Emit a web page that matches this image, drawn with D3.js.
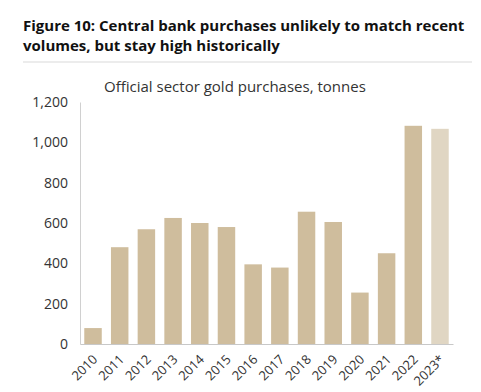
<!DOCTYPE html>
<html>
<head>
<meta charset="utf-8">
<script src="https://cdn.jsdelivr.net/npm/d3@7"></script>
<style>
  body { margin: 0; background: #fff; }
  svg { font-family: "Open Sans", sans-serif; display: block; }
</style>
</head>
<body>
<div class="chart"></div>
<script>
// data
const years = ["2010", "2011", "2012", "2013", "2014", "2015", "2016", "2017", "2018", "2019", "2020", "2021", "2022", "2023*"];
const purchases = [79, 480, 569, 625, 600, 580, 395, 379, 656, 605, 255, 450, 1082, 1067];
const yTicks = [0, 200, 400, 600, 800, 1000, 1200];
const titleLines = ["Figure 10: Central bank purchases unlikely to match recent", "volumes, but stay high historically"];
const subtitle = "Official sector gold purchases, tonnes";

const data = years.map((y, i) => ({year: y, value: purchases[i]}));

const width = 481;
const height = 392;
const margin = {top: 102, right: 28, bottom: 48, left: 80};
const innerWidth = width - margin.left - margin.right;
const innerHeight = height - margin.top - margin.bottom;

const svg = d3.select(".chart")
  .append("svg")
    .attr("width", width)
    .attr("height", height);

// title
svg.append("g")
  .selectAll("text")
  .data(titleLines)
  .enter()
  .append("text")
    .attr("x", 23)
    .attr("y", (d, i) => 31 + i * 20)
    .attr("font-size", 15)
    .attr("font-weight", "bold")
    .attr("fill", "#111")
    .text(d => d);

svg.append("line")
  .attr("x1", 23).attr("x2", 472)
  .attr("y1", 62).attr("y2", 62)
  .attr("stroke", "#d9d9d9");

svg.append("text")
  .attr("x", 104)
  .attr("y", 92)
  .attr("font-size", 15)
  .attr("fill", "#333")
  .text(subtitle);

const g = svg.append("g")
  .attr("transform", `translate(${margin.left}, ${margin.top})`);

const x = d3.scaleBand()
  .domain(years)
  .range([0, innerWidth])
  .paddingInner(0.345)
  .paddingOuter(0.16);

const y = d3.scaleLinear()
  .domain([0, 1200])
  .range([innerHeight, 0]);

// y axis
const yAxis = g.append("g")
  .call(d3.axisLeft(y).tickValues(yTicks).tickSize(0).tickPadding(12).tickFormat(d3.format(",")));
yAxis.select(".domain").attr("stroke", "#d0d0d0");
yAxis.selectAll("text")
  .attr("font-size", 14)
  .attr("font-family", "Open Sans, sans-serif")
  .attr("fill", "#333");

// bars
g.selectAll("rect")
  .data(data)
  .enter()
  .append("rect")
    .attr("x", d => x(d.year))
    .attr("y", d => y(d.value))
    .attr("width", x.bandwidth())
    .attr("height", d => innerHeight - y(d.value))
    .attr("fill", d => d.year === "2023*" ? "#e0d6c3" : "#cfbd9d");

// x axis
const xAxis = g.append("g")
  .attr("transform", `translate(0, ${innerHeight})`)
  .call(d3.axisBottom(x).tickSize(0).tickSizeOuter(0));
xAxis.select(".domain").attr("stroke", "#c8c8c8");
xAxis.selectAll("text")
  .attr("font-size", 13)
  .attr("font-family", "Open Sans, sans-serif")
  .attr("fill", "#333")
  .attr("text-anchor", "end")
  .attr("dy", "0.35em")
  .attr("transform", "translate(0, 11) rotate(-45)");
</script>
</body>
</html>
